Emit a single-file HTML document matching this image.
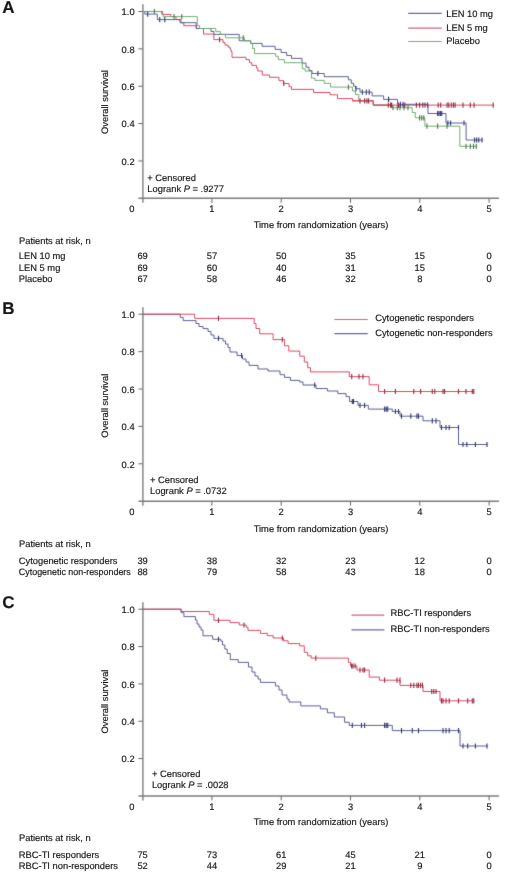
<!DOCTYPE html>
<html><head><meta charset="utf-8"><title>Overall survival</title>
<style>
html,body{margin:0;padding:0;background:#fff;}
body{width:520px;height:876px;overflow:hidden;}
svg{display:block;will-change:transform;}
svg text{text-rendering:geometricPrecision;font-family:"Liberation Sans", sans-serif;fill:#141414;stroke:#141414;stroke-width:0.16px;}
</style></head>
<body>
<svg width="520" height="876" viewBox="0 0 520 876">
<defs><filter id="bl" color-interpolation-filters="sRGB" filterUnits="userSpaceOnUse" x="0" y="0" width="520" height="876"><feConvolveMatrix order="3" kernelMatrix="0.01134 0.08382 0.01134 0.08382 0.61935 0.08382 0.01134 0.08382 0.01134" edgeMode="duplicate"/></filter><filter id="bt" color-interpolation-filters="sRGB" filterUnits="userSpaceOnUse" x="0" y="0" width="520" height="876"><feConvolveMatrix order="3" kernelMatrix="0.00027 0.01580 0.00027 0.01580 0.93575 0.01580 0.00027 0.01580 0.00027" edgeMode="none" preserveAlpha="false"/></filter></defs>
<rect width="520" height="876" fill="#fff"/>
<g filter="url(#bl)">
<rect width="520" height="876" fill="#fff"/>
<line x1="142.9" y1="4.3" x2="142.9" y2="202.8" stroke="#8e8e8e" stroke-width="1.6"/>
<line x1="138.5" y1="198.3" x2="499" y2="198.3" stroke="#7c7c7c" stroke-width="1.5"/>
<line x1="138.4" y1="11.50" x2="142.6" y2="11.50" stroke="#666" stroke-width="1"/>
<line x1="138.4" y1="48.86" x2="142.6" y2="48.86" stroke="#666" stroke-width="1"/>
<line x1="138.4" y1="86.22" x2="142.6" y2="86.22" stroke="#666" stroke-width="1"/>
<line x1="138.4" y1="123.58" x2="142.6" y2="123.58" stroke="#666" stroke-width="1"/>
<line x1="138.4" y1="160.94" x2="142.6" y2="160.94" stroke="#666" stroke-width="1"/>
<line x1="211.90" y1="198.3" x2="211.90" y2="202.8" stroke="#666" stroke-width="1"/>
<line x1="281.20" y1="198.3" x2="281.20" y2="202.8" stroke="#666" stroke-width="1"/>
<line x1="350.50" y1="198.3" x2="350.50" y2="202.8" stroke="#666" stroke-width="1"/>
<line x1="419.80" y1="198.3" x2="419.80" y2="202.8" stroke="#666" stroke-width="1"/>
<line x1="489.10" y1="198.3" x2="489.10" y2="202.8" stroke="#666" stroke-width="1"/>
<line x1="408.1" y1="13.4" x2="441.8" y2="13.4" stroke="#686c98" stroke-width="1.2"/>
<line x1="408.1" y1="28.2" x2="441.8" y2="28.2" stroke="#c8687c" stroke-width="1.2"/>
<line x1="408.1" y1="41.5" x2="441.8" y2="41.5" stroke="#80a880" stroke-width="1.2"/>
<path d="M142.6 11.5H162.6V14.4H170.8V16.5H176.0V19.6H181.0V22.8H183.8V25.7H196.5V28.5H203.5V34.1H213.8V39.6H223.0V42.5H225.0V45.0H228.0V47.0H230.0V49.0H231.0V51.5H232.0V57.3H246.0V59.6H249.5V62.7H251.8V65.4H256.5V68.0H257.8V71.0H262.3V75.0H269.5V77.3H279.0V80.6H283.5V83.5H289.0V86.7H291.5V89.4H313.6V92.5H330.0V94.8H337.5V98.6H352.5V100.8H373.3V105.1H493.6" fill="none" stroke="#d8405c" stroke-width="0.95" />
<path d="M142.6 11.5H144.8V14.1H157.3V19.6H180.0V22.7H196.1V28.5H211.0V31.5H214.0V34.4H239.2V40.8H250.7V43.4H262.1V46.3H275.1V49.4H281.1V52.5H286.7V55.5H291.5V58.4H302.0V63.1H306.0V67.1H309.0V70.5H312.0V73.5H324.2V76.7H348.4V79.8H351.3V83.3H353.6V86.1H355.5V88.7H360.0V92.1H372.1V95.9H383.6V99.4H397.5V104.3H428.0V113.5H446.0V123.0H466.1V140.0H483.0" fill="none" stroke="#555a8e" stroke-width="0.95" />
<path d="M142.6 11.5H161.4V14.2H163.2V16.6H197.3V25.6H199.5V28.5H215.8V31.6H220.4V34.4H225.4V37.8H244.5V40.8H250.7V43.6H252.6V48.5H254.5V53.6H275.6V56.3H278.3V59.6H284.4V62.7H302.3V68.8H305.2V71.1H311.5V78.1H315.0V80.4H324.2V83.3H330.6V87.1H352.5V91.0H355.5V94.5H358.8V100.8H373.3V105.1H392.0V107.7H412.2V112.5H415.4V117.8H424.9V126.2H459.8V146.3H476.7" fill="none" stroke="#6caa6c" stroke-width="0.95" />
<path d="M352 100.8H373.3V105.1H392" fill="none" stroke="#d8405c" stroke-width="0.95"/>
<path d="M154.4 8.9V14.1M174.0 14.0V19.2M181.8 14.0V19.2M243.2 35.2V40.4M348.4 84.5V89.7M388.5 96.8V102.0M393.0 105.1V110.3M397.3 105.1V110.3M400.0 105.1V110.3M404.0 105.1V110.3M408.0 105.1V110.3M419.6 115.2V120.4M421.7 115.2V120.4M423.8 115.2V120.4M427.0 123.6V128.8M437.6 123.6V128.8M447.0 123.6V128.8M466.0 143.7V148.9M470.3 143.7V148.9M473.5 143.7V148.9M476.3 143.7V148.9" fill="none" stroke="#4a7a4a" stroke-width="1.1" />
<path d="M147.7 11.5V16.7M159.7 17.0V22.2M164.8 17.0V22.2M317.9 70.9V76.1M356.0 86.1V91.3M362.3 89.5V94.7M366.3 89.5V94.7M369.2 89.5V94.7M388.6 96.8V102.0M400.4 101.7V106.9M403.0 101.7V106.9M437.6 110.9V116.1M439.0 110.9V116.1M440.5 110.9V116.1M441.8 110.9V116.1M447.9 120.4V125.6M450.6 120.4V125.6M464.0 120.4V125.6M474.6 137.4V142.6M476.7 137.4V142.6M478.8 137.4V142.6M482.0 137.4V142.6" fill="none" stroke="#323872" stroke-width="1.1" />
<path d="M219.6 37.0V42.2M283.8 80.9V86.1M360.0 98.2V103.4M364.6 98.2V103.4M366.9 98.2V103.4M368.6 98.2V103.4M388.3 102.5V107.7M390.6 102.5V107.7M391.7 102.5V107.7M398.4 102.5V107.7M404.8 102.5V107.7M416.4 102.5V107.7M419.6 102.5V107.7M422.8 102.5V107.7M425.0 102.5V107.7M427.6 102.5V107.7M438.2 102.5V107.7M440.7 102.5V107.7M447.1 102.5V107.7M448.8 102.5V107.7M451.3 102.5V107.7M453.4 102.5V107.7M455.1 102.5V107.7M463.0 102.5V107.7M470.3 102.5V107.7M474.1 102.5V107.7M493.2 102.5V107.7" fill="none" stroke="#962840" stroke-width="1.1" />
<line x1="142.9" y1="307.3" x2="142.9" y2="505.7" stroke="#8e8e8e" stroke-width="1.6"/>
<line x1="138.5" y1="501.2" x2="499" y2="501.2" stroke="#7c7c7c" stroke-width="1.5"/>
<line x1="138.4" y1="314.20" x2="142.6" y2="314.20" stroke="#666" stroke-width="1"/>
<line x1="138.4" y1="351.60" x2="142.6" y2="351.60" stroke="#666" stroke-width="1"/>
<line x1="138.4" y1="389.00" x2="142.6" y2="389.00" stroke="#666" stroke-width="1"/>
<line x1="138.4" y1="426.40" x2="142.6" y2="426.40" stroke="#666" stroke-width="1"/>
<line x1="138.4" y1="463.80" x2="142.6" y2="463.80" stroke="#666" stroke-width="1"/>
<line x1="211.90" y1="501.2" x2="211.90" y2="505.7" stroke="#666" stroke-width="1"/>
<line x1="281.20" y1="501.2" x2="281.20" y2="505.7" stroke="#666" stroke-width="1"/>
<line x1="350.50" y1="501.2" x2="350.50" y2="505.7" stroke="#666" stroke-width="1"/>
<line x1="419.80" y1="501.2" x2="419.80" y2="505.7" stroke="#666" stroke-width="1"/>
<line x1="489.10" y1="501.2" x2="489.10" y2="505.7" stroke="#666" stroke-width="1"/>
<line x1="334.4" y1="319.5" x2="367.8" y2="319.5" stroke="#c8687c" stroke-width="1.2"/>
<line x1="334.4" y1="333.7" x2="367.8" y2="333.7" stroke="#686c98" stroke-width="1.2"/>
<path d="M142.6 314.2H180.2V317.4H183.2V320.6H196.0V323.5H199.0V326.5H203.0V328.6H208.1V331.5H211.0V335.0H214.0V338.4H223.1V341.0H225.5V344.0H228.0V347.5H230.0V352.0H237.0V355.5H242.5V359.0H246.0V362.0H249.0V365.4H258.0V369.0H268.0V371.0H280.0V374.7H284.6V377.4H290.4V380.4H299.7V382.0H303.0V385.0H316.0V388.5H327.4V391.0H337.8V393.6H346.0V396.6H349.5V401.5H358.0V405.4H368.3V409.1H392.3V411.5H400.0V416.2H423.0V420.8H440.0V427.5H458.5V444.5H487.7" fill="none" stroke="#555a8e" stroke-width="0.95" />
<path d="M142.6 314.2H194.7V318.4H254.2V323.5H256.0V328.5H259.7V333.8H273.1V339.6H284.6V345.8H288.8V351.1H299.7V356.2H304.3V362.0H307.7V367.7H310.5V371.9H349.3V376.6H369.2V384.8H378.5V391.5H473.8" fill="none" stroke="#d8405c" stroke-width="0.95" />
<path d="M218.5 335.8V341.0M241.6 352.9V358.1M314.7 382.4V387.6M352.3 398.9V404.1M353.5 398.9V404.1M360.0 402.8V408.0M364.6 402.8V408.0M384.6 406.5V411.7M386.2 406.5V411.7M387.7 406.5V411.7M395.4 408.9V414.1M398.5 408.9V414.1M401.5 413.6V418.8M410.8 413.6V418.8M416.9 413.6V418.8M418.5 413.6V418.8M432.3 418.2V423.4M436.0 418.2V423.4M441.5 424.9V430.1M446.0 424.9V430.1M449.2 424.9V430.1M458.5 424.9V430.1M463.0 441.9V447.1M466.8 441.9V447.1M475.4 441.9V447.1M487.0 441.9V447.1" fill="none" stroke="#323872" stroke-width="1.1" />
<path d="M218.5 315.8V321.0M282.3 337.0V342.2M351.7 374.0V379.2M359.0 374.0V379.2M363.0 374.0V379.2M384.6 388.9V394.1M395.4 388.9V394.1M413.8 388.9V394.1M420.6 388.9V394.1M432.3 388.9V394.1M434.8 388.9V394.1M443.0 388.9V394.1M444.6 388.9V394.1M458.5 388.9V394.1M466.0 388.9V394.1M472.3 388.9V394.1M473.8 388.9V394.1" fill="none" stroke="#962840" stroke-width="1.1" />
<line x1="142.9" y1="602.3" x2="142.9" y2="800.4" stroke="#8e8e8e" stroke-width="1.6"/>
<line x1="138.5" y1="795.9" x2="499" y2="795.9" stroke="#7c7c7c" stroke-width="1.5"/>
<line x1="138.4" y1="609.20" x2="142.6" y2="609.20" stroke="#666" stroke-width="1"/>
<line x1="138.4" y1="646.54" x2="142.6" y2="646.54" stroke="#666" stroke-width="1"/>
<line x1="138.4" y1="683.88" x2="142.6" y2="683.88" stroke="#666" stroke-width="1"/>
<line x1="138.4" y1="721.22" x2="142.6" y2="721.22" stroke="#666" stroke-width="1"/>
<line x1="138.4" y1="758.56" x2="142.6" y2="758.56" stroke="#666" stroke-width="1"/>
<line x1="211.90" y1="795.9" x2="211.90" y2="800.4" stroke="#666" stroke-width="1"/>
<line x1="281.20" y1="795.9" x2="281.20" y2="800.4" stroke="#666" stroke-width="1"/>
<line x1="350.50" y1="795.9" x2="350.50" y2="800.4" stroke="#666" stroke-width="1"/>
<line x1="419.80" y1="795.9" x2="419.80" y2="800.4" stroke="#666" stroke-width="1"/>
<line x1="489.10" y1="795.9" x2="489.10" y2="800.4" stroke="#666" stroke-width="1"/>
<line x1="351.5" y1="615.1" x2="384.3" y2="615.1" stroke="#c8687c" stroke-width="1.2"/>
<line x1="351.5" y1="629.9" x2="384.3" y2="629.9" stroke="#686c98" stroke-width="1.2"/>
<path d="M142.6 609.2H181.1V612.7H183.9V616.6H195.4V620.0H197.0V624.0H199.0V627.0H201.0V630.0H203.0V635.8H212.7V639.3H220.8V641.0H222.5V645.0H224.8V649.0H227.2V653.5H230.3V659.6H238.2V662.4H248.5V667.0H252.0V672.0H255.0V676.0H258.0V679.0H260.4V682.4H275.4V686.0H279.0V690.0H282.0V695.0H287.0V699.0H289.0V702.0H300.8V705.9H320.4V708.9H327.4V712.8H334.3V717.0H344.6V722.3H349.2V725.4H392.3V730.6H460.0V746.0H487.7" fill="none" stroke="#555a8e" stroke-width="0.95" />
<path d="M142.6 609.2H181.1V611.5H209.3V614.3H213.9V620.3H230.0V622.6H239.3V625.0H246.2V627.3H248.0V630.4H260.4V633.4H267.3V635.7H273.1V638.0H283.5V640.8H288.1V643.6H299.7V645.9H304.3V652.3H307.7V655.8H311.2V658.1H348.4V662.3H350.5V666.0H357.0V670.0H369.2V677.1H379.4V680.2H400.0V685.4H423.0V691.5H440.0V700.8H473.8" fill="none" stroke="#d8405c" stroke-width="0.95" />
<path d="M218.5 636.7V641.9M352.3 722.8V728.0M361.5 722.8V728.0M364.6 722.8V728.0M384.6 722.8V728.0M386.2 722.8V728.0M387.7 722.8V728.0M401.5 728.0V733.2M412.3 728.0V733.2M418.5 728.0V733.2M443.0 728.0V733.2M446.0 728.0V733.2M449.2 728.0V733.2M458.5 728.0V733.2M463.0 743.4V748.6M467.7 743.4V748.6M475.4 743.4V748.6M487.0 743.4V748.6" fill="none" stroke="#323872" stroke-width="1.1" />
<path d="M218.5 617.7V622.9M244.0 622.4V627.6M282.3 635.4V640.6M315.8 655.5V660.7M351.6 663.4V668.6M353.0 663.4V668.6M355.1 663.4V668.6M360.0 667.4V672.6M363.0 667.4V672.6M364.6 667.4V672.6M384.6 677.6V682.8M397.0 677.6V682.8M400.0 677.6V682.8M410.8 682.8V688.0M413.8 682.8V688.0M416.9 682.8V688.0M418.5 682.8V688.0M420.6 682.8V688.0M422.5 682.8V688.0M431.7 688.9V694.1M433.8 688.9V694.1M436.0 688.9V694.1M441.5 698.2V703.4M443.0 698.2V703.4M446.0 698.2V703.4M449.2 698.2V703.4M458.5 698.2V703.4M467.7 698.2V703.4M472.3 698.2V703.4M473.8 698.2V703.4" fill="none" stroke="#962840" stroke-width="1.1" />
</g>
<g filter="url(#bt)">
<text transform="translate(134.60 15.30) scale(1 1.0)" font-size="9.35" text-anchor="end" font-weight="normal" >1.0</text>
<text transform="translate(134.60 52.66) scale(1 1.0)" font-size="9.35" text-anchor="end" font-weight="normal" >0.8</text>
<text transform="translate(134.60 90.02) scale(1 1.0)" font-size="9.35" text-anchor="end" font-weight="normal" >0.6</text>
<text transform="translate(134.60 127.38) scale(1 1.0)" font-size="9.35" text-anchor="end" font-weight="normal" >0.4</text>
<text transform="translate(134.60 164.74) scale(1 1.0)" font-size="9.35" text-anchor="end" font-weight="normal" >0.2</text>
<text transform="translate(131.80 212.30) scale(1 1.0)" font-size="9.35" text-anchor="middle" font-weight="normal" >0</text>
<text transform="translate(211.90 212.30) scale(1 1.0)" font-size="9.35" text-anchor="middle" font-weight="normal" >1</text>
<text transform="translate(281.20 212.30) scale(1 1.0)" font-size="9.35" text-anchor="middle" font-weight="normal" >2</text>
<text transform="translate(350.50 212.30) scale(1 1.0)" font-size="9.35" text-anchor="middle" font-weight="normal" >3</text>
<text transform="translate(419.80 212.30) scale(1 1.0)" font-size="9.35" text-anchor="middle" font-weight="normal" >4</text>
<text transform="translate(489.10 212.30) scale(1 1.0)" font-size="9.35" text-anchor="middle" font-weight="normal" >5</text>
<text transform="translate(321.00 228.20) scale(1 1.0)" font-size="9.35" text-anchor="middle" font-weight="normal" >Time from randomization (years)</text>
<text transform="translate(2.30 13.40) scale(1 1.0)" font-size="17" text-anchor="start" font-weight="bold" >A</text>
<text transform="translate(108.3 102) rotate(-90)" font-size="9.35" text-anchor="middle">Overall survival</text>
<text transform="translate(147.30 181.10) scale(1 1.0)" font-size="9.35" text-anchor="start" font-weight="normal" >+ Censored</text>
<text transform="translate(147.3 192.3) scale(1 1.0)" font-size="9.35">Logrank <tspan font-style="italic">P</tspan> = .9277</text>
<text transform="translate(446.20 17.10) scale(1 1.0)" font-size="9.35" text-anchor="start" font-weight="normal" >LEN 10 mg</text>
<text transform="translate(446.20 31.00) scale(1 1.0)" font-size="9.35" text-anchor="start" font-weight="normal" >LEN 5 mg</text>
<text transform="translate(446.20 44.20) scale(1 1.0)" font-size="9.35" text-anchor="start" font-weight="normal" >Placebo</text>
<text transform="translate(19.00 244.20) scale(1 1.0)" font-size="9.35" text-anchor="start" font-weight="normal" >Patients at risk, n</text>
<text transform="translate(18.80 258.90) scale(1 1.0)" font-size="9.35" text-anchor="start" font-weight="normal" >LEN 10 mg</text>
<text transform="translate(142.60 258.90) scale(1 1.0)" font-size="9.35" text-anchor="middle" font-weight="normal" >69</text>
<text transform="translate(211.90 258.90) scale(1 1.0)" font-size="9.35" text-anchor="middle" font-weight="normal" >57</text>
<text transform="translate(281.20 258.90) scale(1 1.0)" font-size="9.35" text-anchor="middle" font-weight="normal" >50</text>
<text transform="translate(350.50 258.90) scale(1 1.0)" font-size="9.35" text-anchor="middle" font-weight="normal" >35</text>
<text transform="translate(419.80 258.90) scale(1 1.0)" font-size="9.35" text-anchor="middle" font-weight="normal" >15</text>
<text transform="translate(489.10 258.90) scale(1 1.0)" font-size="9.35" text-anchor="middle" font-weight="normal" >0</text>
<text transform="translate(18.80 270.60) scale(1 1.0)" font-size="9.35" text-anchor="start" font-weight="normal" >LEN 5 mg</text>
<text transform="translate(142.60 270.60) scale(1 1.0)" font-size="9.35" text-anchor="middle" font-weight="normal" >69</text>
<text transform="translate(211.90 270.60) scale(1 1.0)" font-size="9.35" text-anchor="middle" font-weight="normal" >60</text>
<text transform="translate(281.20 270.60) scale(1 1.0)" font-size="9.35" text-anchor="middle" font-weight="normal" >40</text>
<text transform="translate(350.50 270.60) scale(1 1.0)" font-size="9.35" text-anchor="middle" font-weight="normal" >31</text>
<text transform="translate(419.80 270.60) scale(1 1.0)" font-size="9.35" text-anchor="middle" font-weight="normal" >15</text>
<text transform="translate(489.10 270.60) scale(1 1.0)" font-size="9.35" text-anchor="middle" font-weight="normal" >0</text>
<text transform="translate(18.80 281.80) scale(1 1.0)" font-size="9.35" text-anchor="start" font-weight="normal" >Placebo</text>
<text transform="translate(142.60 281.80) scale(1 1.0)" font-size="9.35" text-anchor="middle" font-weight="normal" >67</text>
<text transform="translate(211.90 281.80) scale(1 1.0)" font-size="9.35" text-anchor="middle" font-weight="normal" >58</text>
<text transform="translate(281.20 281.80) scale(1 1.0)" font-size="9.35" text-anchor="middle" font-weight="normal" >46</text>
<text transform="translate(350.50 281.80) scale(1 1.0)" font-size="9.35" text-anchor="middle" font-weight="normal" >32</text>
<text transform="translate(419.80 281.80) scale(1 1.0)" font-size="9.35" text-anchor="middle" font-weight="normal" >8</text>
<text transform="translate(489.10 281.80) scale(1 1.0)" font-size="9.35" text-anchor="middle" font-weight="normal" >0</text>
<text transform="translate(134.60 318.00) scale(1 1.0)" font-size="9.35" text-anchor="end" font-weight="normal" >1.0</text>
<text transform="translate(134.60 355.40) scale(1 1.0)" font-size="9.35" text-anchor="end" font-weight="normal" >0.8</text>
<text transform="translate(134.60 392.80) scale(1 1.0)" font-size="9.35" text-anchor="end" font-weight="normal" >0.6</text>
<text transform="translate(134.60 430.20) scale(1 1.0)" font-size="9.35" text-anchor="end" font-weight="normal" >0.4</text>
<text transform="translate(134.60 467.60) scale(1 1.0)" font-size="9.35" text-anchor="end" font-weight="normal" >0.2</text>
<text transform="translate(131.80 515.20) scale(1 1.0)" font-size="9.35" text-anchor="middle" font-weight="normal" >0</text>
<text transform="translate(211.90 515.20) scale(1 1.0)" font-size="9.35" text-anchor="middle" font-weight="normal" >1</text>
<text transform="translate(281.20 515.20) scale(1 1.0)" font-size="9.35" text-anchor="middle" font-weight="normal" >2</text>
<text transform="translate(350.50 515.20) scale(1 1.0)" font-size="9.35" text-anchor="middle" font-weight="normal" >3</text>
<text transform="translate(419.80 515.20) scale(1 1.0)" font-size="9.35" text-anchor="middle" font-weight="normal" >4</text>
<text transform="translate(489.10 515.20) scale(1 1.0)" font-size="9.35" text-anchor="middle" font-weight="normal" >5</text>
<text transform="translate(321.00 531.50) scale(1 1.0)" font-size="9.35" text-anchor="middle" font-weight="normal" >Time from randomization (years)</text>
<text transform="translate(2.30 314.00) scale(1 1.0)" font-size="17" text-anchor="start" font-weight="bold" >B</text>
<text transform="translate(108.3 405.7) rotate(-90)" font-size="9.35" text-anchor="middle">Overall survival</text>
<text transform="translate(150.00 482.60) scale(1 1.0)" font-size="9.35" text-anchor="start" font-weight="normal" >+ Censored</text>
<text transform="translate(150.0 493.6) scale(1 1.0)" font-size="9.35">Logrank <tspan font-style="italic">P</tspan> = .0732</text>
<text transform="translate(375.20 321.20) scale(1 1.0)" font-size="9.35" text-anchor="start" font-weight="normal" >Cytogenetic responders</text>
<text transform="translate(375.20 336.00) scale(1 1.0)" font-size="9.35" text-anchor="start" font-weight="normal" >Cytogenetic non-responders</text>
<text transform="translate(19.00 547.40) scale(1 1.0)" font-size="9.35" text-anchor="start" font-weight="normal" >Patients at risk, n</text>
<text transform="translate(18.80 564.00) scale(1 1.0)" font-size="9.35" text-anchor="start" font-weight="normal" >Cytogenetic responders</text>
<text transform="translate(142.60 564.00) scale(1 1.0)" font-size="9.35" text-anchor="middle" font-weight="normal" >39</text>
<text transform="translate(211.90 564.00) scale(1 1.0)" font-size="9.35" text-anchor="middle" font-weight="normal" >38</text>
<text transform="translate(281.20 564.00) scale(1 1.0)" font-size="9.35" text-anchor="middle" font-weight="normal" >32</text>
<text transform="translate(350.50 564.00) scale(1 1.0)" font-size="9.35" text-anchor="middle" font-weight="normal" >23</text>
<text transform="translate(419.80 564.00) scale(1 1.0)" font-size="9.35" text-anchor="middle" font-weight="normal" >12</text>
<text transform="translate(489.10 564.00) scale(1 1.0)" font-size="9.35" text-anchor="middle" font-weight="normal" >0</text>
<text transform="translate(18.80 574.60) scale(1 1.0)" font-size="9.35" text-anchor="start" font-weight="normal" textLength="112" lengthAdjust="spacingAndGlyphs">Cytogenetic non-responders</text>
<text transform="translate(142.60 574.60) scale(1 1.0)" font-size="9.35" text-anchor="middle" font-weight="normal" >88</text>
<text transform="translate(211.90 574.60) scale(1 1.0)" font-size="9.35" text-anchor="middle" font-weight="normal" >79</text>
<text transform="translate(281.20 574.60) scale(1 1.0)" font-size="9.35" text-anchor="middle" font-weight="normal" >58</text>
<text transform="translate(350.50 574.60) scale(1 1.0)" font-size="9.35" text-anchor="middle" font-weight="normal" >43</text>
<text transform="translate(419.80 574.60) scale(1 1.0)" font-size="9.35" text-anchor="middle" font-weight="normal" >18</text>
<text transform="translate(489.10 574.60) scale(1 1.0)" font-size="9.35" text-anchor="middle" font-weight="normal" >0</text>
<text transform="translate(134.60 613.00) scale(1 1.0)" font-size="9.35" text-anchor="end" font-weight="normal" >1.0</text>
<text transform="translate(134.60 650.34) scale(1 1.0)" font-size="9.35" text-anchor="end" font-weight="normal" >0.8</text>
<text transform="translate(134.60 687.68) scale(1 1.0)" font-size="9.35" text-anchor="end" font-weight="normal" >0.6</text>
<text transform="translate(134.60 725.02) scale(1 1.0)" font-size="9.35" text-anchor="end" font-weight="normal" >0.4</text>
<text transform="translate(134.60 762.36) scale(1 1.0)" font-size="9.35" text-anchor="end" font-weight="normal" >0.2</text>
<text transform="translate(131.80 809.90) scale(1 1.0)" font-size="9.35" text-anchor="middle" font-weight="normal" >0</text>
<text transform="translate(211.90 809.90) scale(1 1.0)" font-size="9.35" text-anchor="middle" font-weight="normal" >1</text>
<text transform="translate(281.20 809.90) scale(1 1.0)" font-size="9.35" text-anchor="middle" font-weight="normal" >2</text>
<text transform="translate(350.50 809.90) scale(1 1.0)" font-size="9.35" text-anchor="middle" font-weight="normal" >3</text>
<text transform="translate(419.80 809.90) scale(1 1.0)" font-size="9.35" text-anchor="middle" font-weight="normal" >4</text>
<text transform="translate(489.10 809.90) scale(1 1.0)" font-size="9.35" text-anchor="middle" font-weight="normal" >5</text>
<text transform="translate(321.00 824.70) scale(1 1.0)" font-size="9.35" text-anchor="middle" font-weight="normal" >Time from randomization (years)</text>
<text transform="translate(2.30 607.80) scale(1 1.0)" font-size="17" text-anchor="start" font-weight="bold" >C</text>
<text transform="translate(108.3 701.5) rotate(-90)" font-size="9.35" text-anchor="middle">Overall survival</text>
<text transform="translate(151.90 777.00) scale(1 1.0)" font-size="9.35" text-anchor="start" font-weight="normal" >+ Censored</text>
<text transform="translate(151.9 788.2) scale(1 1.0)" font-size="9.35">Logrank <tspan font-style="italic">P</tspan> = .0028</text>
<text transform="translate(390.60 616.40) scale(1 1.0)" font-size="9.35" text-anchor="start" font-weight="normal" >RBC-TI responders</text>
<text transform="translate(390.60 631.90) scale(1 1.0)" font-size="9.35" text-anchor="start" font-weight="normal" >RBC-TI non-responders</text>
<text transform="translate(19.00 841.40) scale(1 1.0)" font-size="9.35" text-anchor="start" font-weight="normal" >Patients at risk, n</text>
<text transform="translate(18.80 858.10) scale(1 1.0)" font-size="9.35" text-anchor="start" font-weight="normal" >RBC-TI responders</text>
<text transform="translate(142.60 858.10) scale(1 1.0)" font-size="9.35" text-anchor="middle" font-weight="normal" >75</text>
<text transform="translate(211.90 858.10) scale(1 1.0)" font-size="9.35" text-anchor="middle" font-weight="normal" >73</text>
<text transform="translate(281.20 858.10) scale(1 1.0)" font-size="9.35" text-anchor="middle" font-weight="normal" >61</text>
<text transform="translate(350.50 858.10) scale(1 1.0)" font-size="9.35" text-anchor="middle" font-weight="normal" >45</text>
<text transform="translate(419.80 858.10) scale(1 1.0)" font-size="9.35" text-anchor="middle" font-weight="normal" >21</text>
<text transform="translate(489.10 858.10) scale(1 1.0)" font-size="9.35" text-anchor="middle" font-weight="normal" >0</text>
<text transform="translate(18.80 869.00) scale(1 1.0)" font-size="9.35" text-anchor="start" font-weight="normal" >RBC-TI non-responders</text>
<text transform="translate(142.60 869.00) scale(1 1.0)" font-size="9.35" text-anchor="middle" font-weight="normal" >52</text>
<text transform="translate(211.90 869.00) scale(1 1.0)" font-size="9.35" text-anchor="middle" font-weight="normal" >44</text>
<text transform="translate(281.20 869.00) scale(1 1.0)" font-size="9.35" text-anchor="middle" font-weight="normal" >29</text>
<text transform="translate(350.50 869.00) scale(1 1.0)" font-size="9.35" text-anchor="middle" font-weight="normal" >21</text>
<text transform="translate(419.80 869.00) scale(1 1.0)" font-size="9.35" text-anchor="middle" font-weight="normal" >9</text>
<text transform="translate(489.10 869.00) scale(1 1.0)" font-size="9.35" text-anchor="middle" font-weight="normal" >0</text>
</g>
</svg>
</body></html>
